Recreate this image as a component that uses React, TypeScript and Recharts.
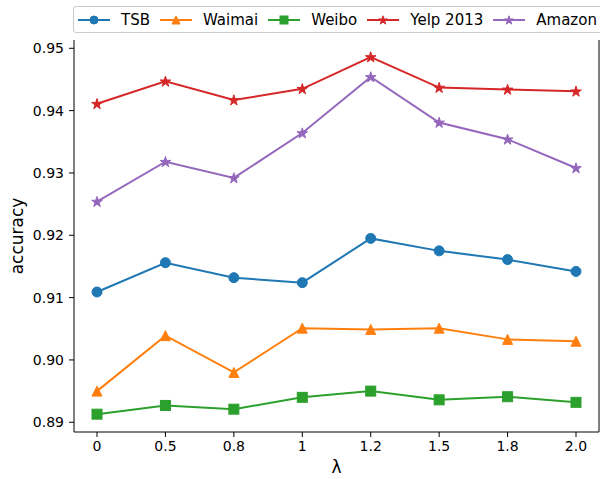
import { LineChart, Line, XAxis, YAxis } from 'recharts';

const lambdas = ['0', '0.5', '0.8', '1', '1.2', '1.5', '1.8', '2.0'];
const tsb = [0.9109, 0.9156, 0.9132, 0.9124, 0.9195, 0.9175, 0.9161, 0.9142];
const waimai = [0.895, 0.9039, 0.898, 0.9051, 0.9049, 0.9051, 0.9033, 0.903];
const weibo = [0.8913, 0.8927, 0.8921, 0.894, 0.895, 0.8936, 0.8941, 0.8932];
const yelp = [0.9411, 0.9447, 0.9417, 0.9435, 0.9486, 0.9437, 0.9434, 0.9431];
const amazon = [0.9254, 0.9318, 0.9292, 0.9364, 0.9454, 0.9381, 0.9354, 0.9308];
const yTicks = [0.89, 0.9, 0.91, 0.92, 0.93, 0.94, 0.95];

const series = [
  { key: 'tsb', name: 'TSB', color: '#1f77b4', marker: 'circle', values: tsb },
  { key: 'waimai', name: 'Waimai', color: '#ff7f0e', marker: 'triangle', values: waimai },
  { key: 'weibo', name: 'Weibo', color: '#2ca02c', marker: 'square', values: weibo },
  { key: 'yelp', name: 'Yelp 2013', color: '#d62728', marker: 'star', values: yelp },
  { key: 'amazon', name: 'Amazon', color: '#9467bd', marker: 'star', values: amazon },
];

const data = lambdas.map((l, i) => {
  const row: Record<string, string | number> = { lambda: l };
  series.forEach((s) => (row[s.key] = s.values[i]));
  return row;
});

const FONT = '"DejaVu Sans", sans-serif';

function starPath(cx: number, cy: number, R: number) {
  const r = R * 0.382;
  const pts = [];
  for (let i = 0; i < 10; i++) {
    const a = -Math.PI / 2 + (i * Math.PI) / 5;
    const rad = i % 2 === 0 ? R : r;
    pts.push(`${cx + rad * Math.cos(a)},${cy + rad * Math.sin(a)}`);
  }
  return 'M' + pts.join('L') + 'Z';
}

// h = half of the marker size
function Marker({ cx, cy, color, marker, h }: { cx: number; cy: number; color: string; marker: string; h: number }) {
  if (marker === 'circle') return <circle cx={cx} cy={cy} r={h} fill={color} stroke={color} />;
  if (marker === 'square') return <rect x={cx - h} y={cy - h} width={2 * h} height={2 * h} fill={color} stroke={color} />;
  if (marker === 'triangle')
    return <path d={`M${cx},${cy - h}L${cx - h},${cy + h}L${cx + h},${cy + h}Z`} fill={color} stroke={color} />;
  return <path d={starPath(cx, cy + 0.4, h + 0.6)} fill={color} stroke={color} strokeWidth={1} />;
}

function LegendBox() {
  return (
    <div
      style={{
        position: 'absolute',
        left: 73,
        top: 6,
        height: 25,
        width: 524,
        whiteSpace: 'nowrap',
        border: '1px solid #cccccc',
        borderRadius: 3,
        background: 'rgba(255,255,255,0.8)',
        display: 'flex',
        alignItems: 'center',
        paddingLeft: 4,
        fontFamily: FONT,
        fontSize: 15,
        color: '#000',
      }}
    >
      {series.map((s) => (
        <span key={s.key} style={{ display: 'inline-flex', alignItems: 'center', marginRight: 10 }}>
          <svg width={32} height={14} style={{ marginRight: 11 }}>
            <line x1={0} y1={7} x2={32} y2={7} stroke={s.color} strokeWidth={2} />
            <Marker cx={16} cy={7} color={s.color} marker={s.marker} h={4} />
          </svg>
          {s.name}
        </span>
      ))}
    </div>
  );
}

export default function App() {
  return (
    <div style={{ position: 'absolute', left: 0, top: 0, width: 600, height: 479, overflow: 'hidden', background: '#fff' }}>
      <LineChart width={600} height={479} data={data} margin={{ top: 40, right: 0, bottom: 0, left: 0 }}>
        <XAxis
          dataKey="lambda"
          height={47}
          padding={{ left: 23, right: 23 }}
          stroke="#000"
          tickSize={5}
          tickMargin={4}
          tick={{ fill: '#000', fontSize: 14, fontFamily: FONT }}
          label={{
            content: ({ viewBox }: any) => (
              <text
                x={viewBox.x + viewBox.width / 2}
                y={viewBox.y + 36}
                textAnchor="middle"
                dominantBaseline="middle"
                fontSize={17}
                fontFamily={FONT}
                fill="#000"
              >
                λ
              </text>
            ),
          }}
        />
        <XAxis xAxisId="top" dataKey="lambda" orientation="top" height={0} tick={false} tickLine={false} stroke="#000" />
        <YAxis
          width={74}
          type="number"
          domain={[0.88844, 0.95133]}
          allowDataOverflow
          ticks={yTicks}
          tickFormatter={(v: number) => v.toFixed(2)}
          stroke="#000"
          tickSize={5}
          tickMargin={5}
          tick={{ fill: '#000', fontSize: 14, fontFamily: FONT }}
          label={{
            content: ({ viewBox }: any) => (
              <text
                transform={`translate(${viewBox.x + 18},${viewBox.y + viewBox.height / 2}) rotate(-90)`}
                textAnchor="middle"
                dominantBaseline="middle"
                fontSize={17}
                fontFamily={FONT}
                fill="#000"
              >
                accuracy
              </text>
            ),
          }}
        />
        <YAxis yAxisId="right" orientation="right" width={1} type="number" domain={[0, 1]} tick={false} tickLine={false} stroke="#000" />
        {series.map((s) => (
          <Line
            key={s.key}
            dataKey={s.key}
            name={s.name}
            type="linear"
            stroke={s.color}
            strokeWidth={2}
            isAnimationActive={false}
            dot={(p: any) => (
              <Marker key={`${s.key}-${p.index}`} cx={p.cx} cy={p.cy} color={s.color} marker={s.marker} h={5} />
            )}
            activeDot={false}
          />
        ))}
      </LineChart>
      <LegendBox />
    </div>
  );
}
